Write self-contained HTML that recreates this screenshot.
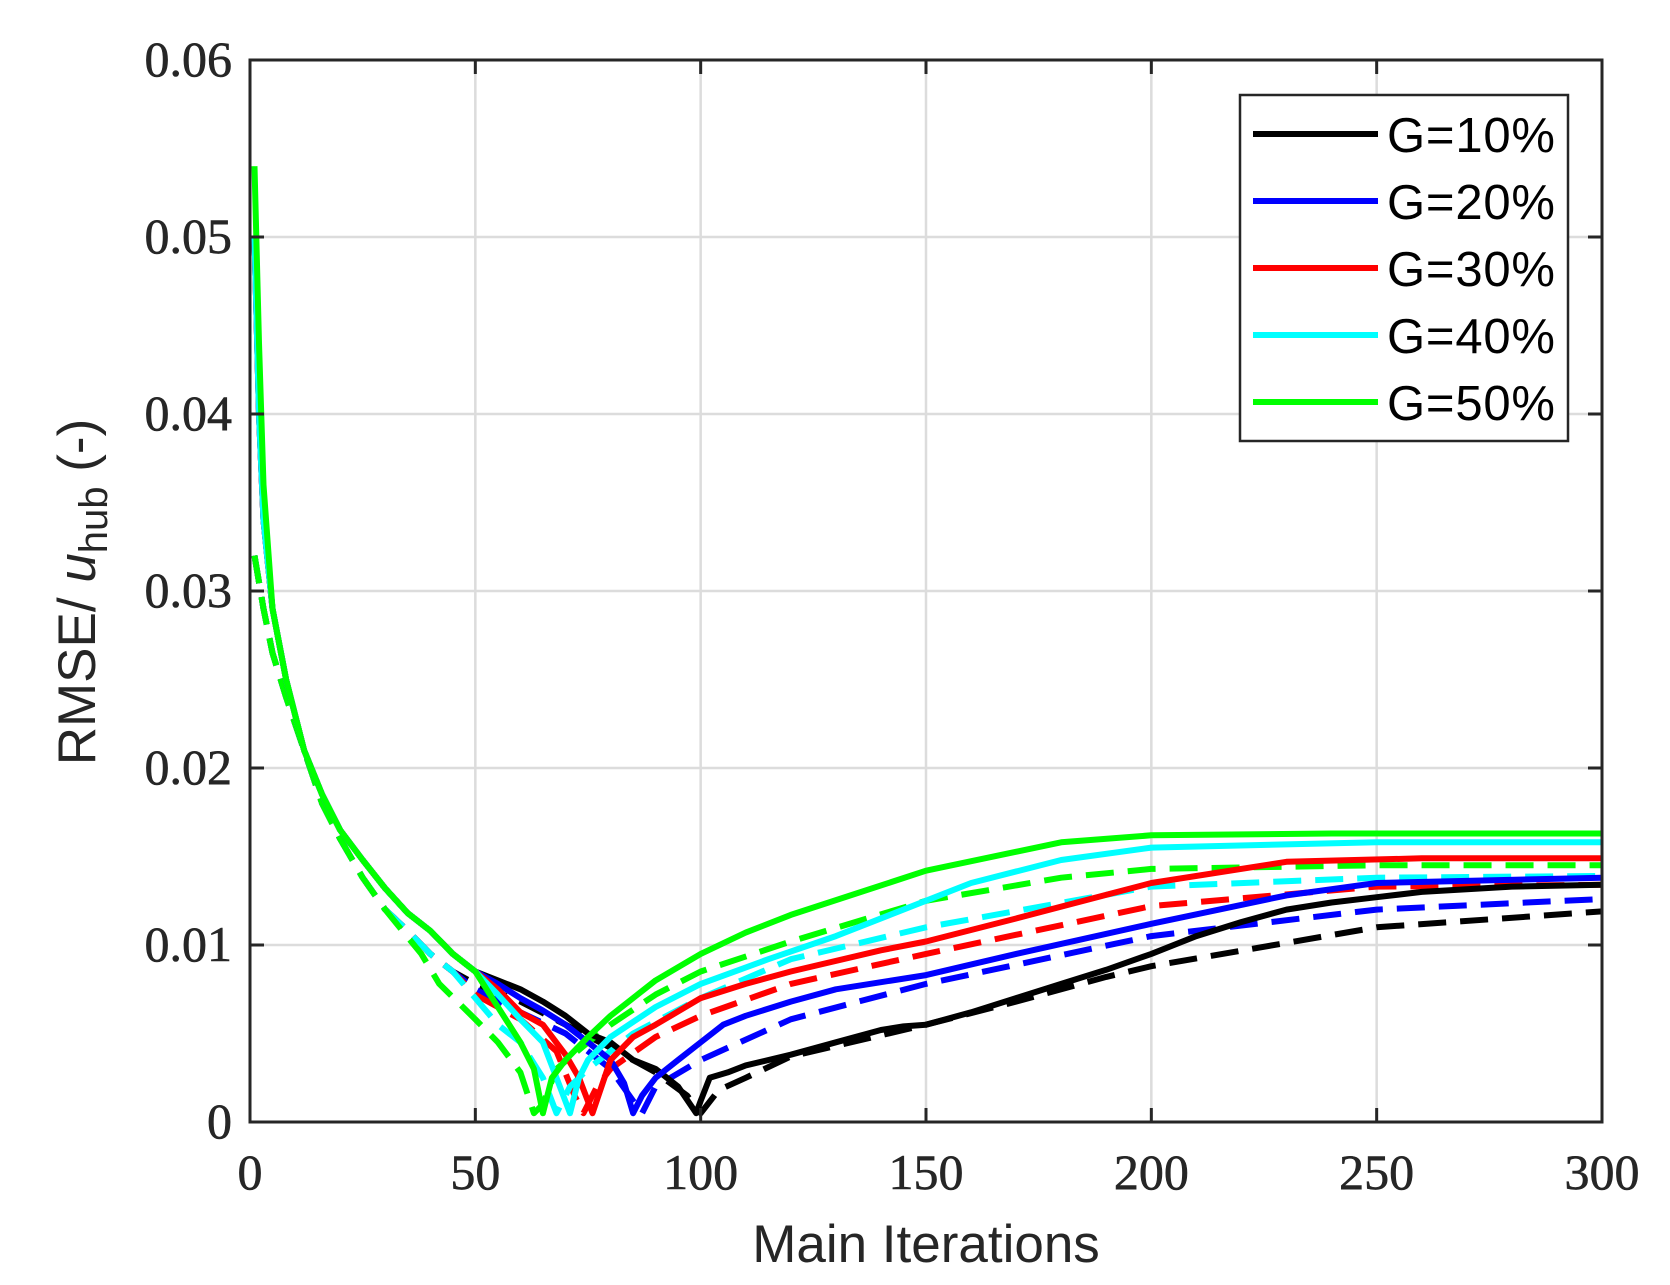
<!DOCTYPE html>
<html><head><meta charset="utf-8"><style>
html,body{margin:0;padding:0;background:#fff}
svg{display:block}
</style></head><body>
<svg id="s" width="1670" height="1285" xmlns="http://www.w3.org/2000/svg">
<rect width="1670" height="1285" fill="#fff"/>
<g id="grid" stroke="#dcdcdc" stroke-width="2.5"></g>
<g id="curves" fill="none" stroke-width="6" stroke-linejoin="round"></g>
<rect x="250" y="60" width="1352" height="1062" fill="none" stroke="#262626" stroke-width="3"/>
<g id="ticks" stroke="#262626" stroke-width="3"></g>
<g id="labels" font-family="'Liberation Serif',serif" font-size="50" fill="#262626" stroke="#262626" stroke-width="0.6"></g>
<text x="926" y="1262" text-anchor="middle" font-family="'Liberation Sans',sans-serif" font-size="53" fill="#262626">Main Iterations</text>
<text transform="translate(95,592) rotate(-90)" text-anchor="middle" font-family="'Liberation Sans',sans-serif" font-size="53" fill="#262626">RMSE/ <tspan font-style="italic">u</tspan><tspan font-size="40" dy="12">hub</tspan><tspan dy="-12">  (-)</tspan></text>
<rect x="1240" y="95" width="328" height="346" fill="#fff" stroke="#262626" stroke-width="2.5"/>
<g font-family="'Liberation Sans',sans-serif" font-size="49" fill="#000">
<line x1="1253" y1="134" x2="1378" y2="134" stroke="#000" stroke-width="6"/><text x="1387" y="152" textLength="168">G=10%</text>
<line x1="1253" y1="201" x2="1378" y2="201" stroke="#0000ff" stroke-width="6"/><text x="1387" y="219" textLength="168">G=20%</text>
<line x1="1253" y1="268" x2="1378" y2="268" stroke="#ff0000" stroke-width="6"/><text x="1387" y="286" textLength="168">G=30%</text>
<line x1="1253" y1="335" x2="1378" y2="335" stroke="#00ffff" stroke-width="6"/><text x="1387" y="353" textLength="168">G=40%</text>
<line x1="1253" y1="402" x2="1378" y2="402" stroke="#00ff00" stroke-width="6"/><text x="1387" y="420" textLength="168">G=50%</text>
</g>
<script>
var NS="http://www.w3.org/2000/svg";
function X(x){return 250+x*1352/300}
function Y(v){return 1122-v*17700}
function el(p,t,a){var e=document.createElementNS(NS,t);for(var k in a)e.setAttribute(k,a[k]);document.getElementById(p).appendChild(e);return e}
for(var i=1;i<6;i++){var x=X(i*50);el('grid','line',{x1:x,y1:60,x2:x,y2:1122});}
for(var j=1;j<6;j++){var y=Y(j*0.01);el('grid','line',{x1:250,y1:y,x2:1602,y2:y});}
for(var i=0;i<=6;i++){var x=X(i*50);el('ticks','line',{x1:x,y1:1122,x2:x,y2:1108});el('ticks','line',{x1:x,y1:60,x2:x,y2:74});
 var t=el('labels','text',{x:x,y:1189,'text-anchor':'middle'});t.textContent=String(i*50);}
for(var j=0;j<=6;j++){var y=Y(j*0.01);el('ticks','line',{x1:250,y1:y,x2:264,y2:y});el('ticks','line',{x1:1602,y1:y,x2:1588,y2:y});
 var t=el('labels','text',{x:232,y:y+16,'text-anchor':'end'});t.textContent=j==0?'0':(j*0.01).toFixed(2);}
var headS=[[1,0.05],[2,0.04],[3,0.034],[5,0.029],[8,0.025],[12,0.021],[16,0.0185],[20,0.0165],[25,0.0148],[30,0.0132],[35,0.0118],[40,0.0108],[45,0.0095],[50,0.0085]];
var headD=[[1,0.032],[3,0.029],[5,0.0265],[8,0.024],[12,0.021],[16,0.018],[20,0.016],[25,0.0138],[30,0.012],[35,0.0108],[40,0.0095],[45,0.0085]];
var S={
 '#000':{s:headS.concat([[55,0.008],[60,0.0075],[65,0.0068],[70,0.006],[75,0.005],[80,0.0045],[85,0.0035],[90,0.003],[95,0.002],[99,0.0005],[100,0.0012],[102,0.0025],[106,0.0028],[110,0.0032],[120,0.0038],[130,0.0045],[140,0.0052],[145,0.0054],[150,0.0055],[160,0.0062],[170,0.007],[180,0.0078],[190,0.0086],[200,0.0095],[210,0.0105],[220,0.0113],[230,0.012],[240,0.0124],[250,0.0127],[260,0.013],[280,0.0133],[300,0.0134]]),
  d:headD.concat([[50,0.0078],[60,0.0068],[70,0.0055],[80,0.0042],[90,0.0028],[97,0.0015],[100,0.0005],[104,0.0018],[110,0.0025],[120,0.0037],[150,0.0055],[170,0.0068],[190,0.0082],[200,0.0088],[250,0.011],[300,0.0119]])},
 '#0000ff':{s:headS.concat([[55,0.0078],[60,0.007],[65,0.0063],[70,0.0055],[75,0.0045],[80,0.0035],[83,0.0022],[85,0.0005],[87,0.0015],[90,0.0025],[95,0.0035],[100,0.0045],[105,0.0055],[110,0.006],[120,0.0068],[130,0.0075],[150,0.0083],[170,0.0095],[200,0.0112],[230,0.0128],[250,0.0135],[300,0.0138]]),
  d:headD.concat([[50,0.0075],[60,0.0062],[70,0.005],[80,0.003],[85,0.0012],[87,0.0005],[90,0.002],[100,0.0035],[120,0.0058],[150,0.0078],[200,0.0105],[250,0.012],[300,0.0126]])},
 '#ff0000':{s:headS.concat([[55,0.0075],[60,0.0062],[65,0.0055],[70,0.0038],[73,0.0025],[76,0.0005],[80,0.0035],[85,0.0048],[90,0.0055],[100,0.007],[110,0.0078],[120,0.0085],[140,0.0097],[150,0.0102],[170,0.0115],[200,0.0135],[230,0.0147],[260,0.0149],[300,0.0149]]),
  d:headD.concat([[50,0.0072],[60,0.0058],[68,0.004],[72,0.0015],[74,0.0005],[77,0.002],[80,0.003],[90,0.0048],[100,0.006],[120,0.0078],[150,0.0095],[200,0.0122],[250,0.0133],[300,0.0134]])},
 '#00ffff':{s:headS.concat([[55,0.0072],[60,0.0058],[65,0.0045],[68,0.0025],[71,0.0005],[73,0.0025],[75,0.0035],[80,0.0048],[90,0.0065],[100,0.0078],[115,0.0092],[130,0.0105],[160,0.0135],[180,0.0148],[200,0.0155],[250,0.0158],[300,0.0158]]),
  d:headD.concat([[50,0.007],[55,0.0055],[60,0.0045],[65,0.0025],[68,0.0005],[71,0.002],[75,0.003],[85,0.005],[100,0.007],[120,0.0092],[150,0.011],[200,0.0133],[250,0.0138],[300,0.0139]])},
 '#00ff00':{s:[[1,0.054],[2,0.044],[3,0.036]].concat(headS.slice(3)).concat([[55,0.0065],[60,0.0045],[63,0.003],[65,0.0005],[67,0.0025],[70,0.0035],[75,0.0048],[80,0.006],[90,0.008],[100,0.0095],[110,0.0107],[120,0.0117],[150,0.0142],[180,0.0158],[200,0.0162],[240,0.0163],[300,0.0163]]),
  d:headD.slice(0,9).concat([[38,0.0095],[42,0.0078],[50,0.0058],[55,0.0045],[60,0.0028],[63,0.0005],[65,0.001],[68,0.003],[75,0.0045],[80,0.0055],[90,0.0072],[100,0.0085],[120,0.0102],[150,0.0125],[180,0.0138],[200,0.0143],[250,0.0145],[300,0.0145]])}
};
function path(pts){return pts.map(function(p,i){return (i?'L':'M')+X(p[0]).toFixed(1)+','+Y(p[1]).toFixed(1)}).join('')}
var order=['#000','#0000ff','#ff0000','#00ffff','#00ff00'];
order.forEach(function(c){el('curves','path',{d:path(S[c].d),stroke:c,'stroke-dasharray':'28,14'});});
order.forEach(function(c){el('curves','path',{d:path(S[c].s),stroke:c});});
</script>
</svg>
</body></html>
